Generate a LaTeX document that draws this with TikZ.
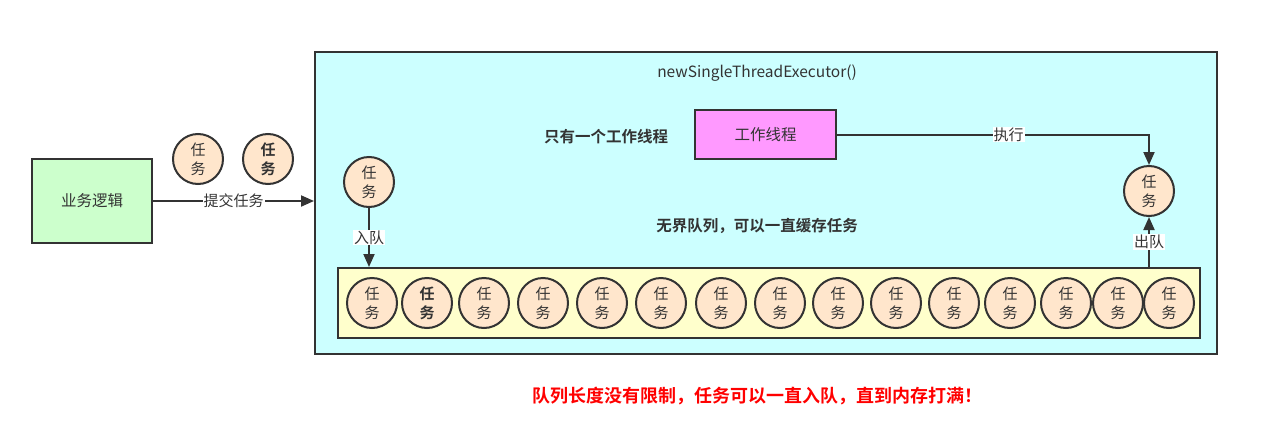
\documentclass[tikz,border=0pt]{standalone}
\usepackage{fontspec}
\setmainfont{Noto Sans CJK SC}
\newfontfamily\cjkbold{Noto Sans CJK SC Bold}
\usetikzlibrary{arrows.meta}
\definecolor{bd}{HTML}{333333}
\definecolor{txt}{HTML}{333333}
\definecolor{greenbg}{HTML}{CCFFCC}
\definecolor{cyanbg}{HTML}{CCFFFF}
\definecolor{pinkbg}{HTML}{FF99FF}
\definecolor{yellowbg}{HTML}{FFFFCC}
\definecolor{taskbg}{HTML}{FFE6CC}
\definecolor{redtxt}{HTML}{FF0000}
\begin{document}
\begin{tikzpicture}[x=1pt,y=-1pt,
  every node/.style={text=txt, font=\fontsize{15.5}{18}\selectfont},
  box/.style={draw=bd, line width=2pt, inner sep=0pt},
  task/.style={circle, draw=bd, line width=2pt, fill=taskbg, minimum size=50pt, inner sep=0pt, align=center, font=\fontsize{15}{19}\selectfont},
  boldtask/.style={task, font=\cjkbold\fontsize{15}{19}\selectfont},
  arr/.style={draw=bd, line width=2pt, -{Triangle[length=13pt,width=11pt]}},
  lbl/.style={fill=white, inner sep=1pt, font=\fontsize{15}{17}\selectfont},
  note/.style={font=\cjkbold\fontsize{15.5}{18}\selectfont}
]
\useasboundingbox[fill=white] (0,0) rectangle (1277,434);

\node[box, fill=greenbg, minimum width=120pt, minimum height=84pt] (biz) at (92,201) {业务逻辑};
\node[task] (t1) at (198,159) {任\\务};
\node[boldtask] (t2) at (268,159) {任\\务};

\node[box, fill=cyanbg, minimum width=902pt, minimum height=302pt] (main) at (766,203) {};
\node (title) at (757,73) {newSingleThreadExecutor()};
\node[note] (only) at (606,137) {只有一个工作线程};
\node[box, fill=pinkbg, minimum width=141pt, minimum height=49pt] (work) at (765.5,134.5) {工作线程};
\node[note] (unb) at (757,226) {无界队列，可以一直缓存任务};

\node[box, fill=yellowbg, minimum width=862pt, minimum height=70pt] (queue) at (769,303) {};

\node[task] (inc) at (369,182) {任\\务};
\node[task] (outc) at (1149,191) {任\\务};

\foreach \x [count=\i] in {372,427,484,543,602,661,721,780,838,896,954,1010,1066,1118,1169}{
  \ifnum\i=2
    \node[boldtask] (q\i) at (\x,303) {任\\务};
  \else
    \node[task] (q\i) at (\x,303) {任\\务};
  \fi
}

\draw[arr] (biz.east) -- node[lbl]{提交任务} (biz.east -| main.west);
\draw[arr] (work.east) -| node[lbl, pos=0.275]{执行} (outc.north);
\draw[arr] (inc.south) -- node[lbl]{入队} (inc.south |- queue.north);
\draw[arr] (outc.south |- queue.north) -- node[lbl]{出队} (outc.south);

\node[text=redtxt, font=\cjkbold\fontsize{18}{20}\selectfont] (warn) at (757,396) {队列长度没有限制，任务可以一直入队，直到内存打满！};
\end{tikzpicture}
\end{document}
